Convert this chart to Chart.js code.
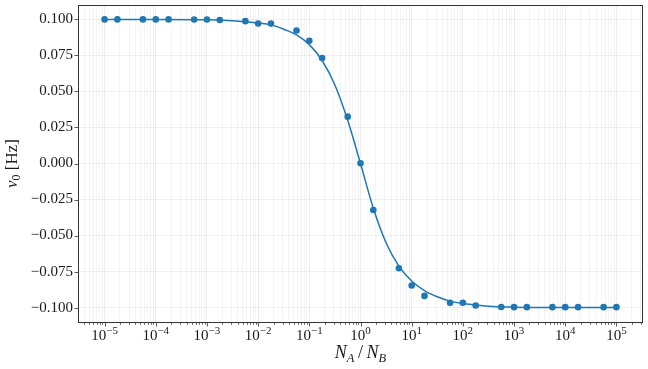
<!DOCTYPE html>
<html>
<head>
<meta charset="utf-8">
<script src="https://cdn.jsdelivr.net/npm/chart.js@4/dist/chart.umd.min.js"></script>
<style>
  html, body { margin: 0; padding: 0; background: #fff; }
  #wrap { width: 648px; height: 369px; position: relative; }
</style>
</head>
<body>
<div id="wrap"><canvas id="chart"></canvas></div>
<script>
// measured points (N_A/N_B, nu_0 in Hz)
const ratioValues = [1e-5, 1.78e-5, 5.62e-5, 1e-4, 1.78e-4, 5.62e-4, 1e-3, 1.78e-3, 5.62e-3, 1e-2, 1.78e-2,
  5.62e-2, 0.1, 0.178, 0.562, 1, 1.78, 5.62, 10, 17.8, 56.2, 100, 178, 562, 1000, 1780, 5620, 1e4, 1.78e4, 5.62e4, 1e5];
const nuValues = [0.1, 0.1, 0.1, 0.1, 0.1, 0.0999, 0.0999, 0.0996, 0.0988, 0.0972, 0.0971,
  0.0923, 0.0852, 0.0732, 0.0325, 0.0002, -0.0323, -0.0727, -0.0847, -0.0919, -0.0967, -0.0966, -0.0985, -0.0996, -0.0997, -0.0997, -0.0997, -0.0997, -0.0997, -0.0997, -0.0997];

// fitted curve
const fitRatio = [1e-5, 1e-4, 1e-3, 3.16e-3, 1e-2, 1.78e-2, 3.16e-2, 5.62e-2, 0.1, 0.178, 0.316, 0.562, 1,
  1.78, 3.16, 5.62, 10, 17.8, 31.6, 56.2, 100, 316, 1000, 1e4, 1e5];
const fitNu = [0.1, 0.1, 0.0997, 0.0991, 0.0975, 0.0962, 0.0932, 0.0893, 0.0825, 0.0715, 0.0545, 0.0300, 0,
  -0.0310, -0.0550, -0.0712, -0.0815, -0.0882, -0.0925, -0.0955, -0.0972, -0.0991, -0.0997, -0.1, -0.1];

const yTicks = [-0.1, -0.075, -0.05, -0.025, 0, 0.025, 0.05, 0.075, 0.1];
const xMajorExp = [-5, -4, -3, -2, -1, 0, 1, 2, 3, 4, 5];

const blue = '#1f77b4';
const ink = '#1a1a1a';
const serif = '"Liberation Serif", "DejaVu Serif", serif';

function fmtY(v) {
  const s = Math.abs(v).toFixed(3);
  return v < -1e-9 ? '\u2212' + s : s;
}

// draws a row of text pieces (text, font, dy), centred on x
function drawPieces(ctx, pieces, x, y) {
  let w = 0;
  pieces.forEach(p => { ctx.font = p.font; w += ctx.measureText(p.text).width; });
  let cx = x - w / 2;
  pieces.forEach(p => {
    ctx.font = p.font;
    ctx.fillText(p.text, cx, y + (p.dy || 0));
    cx += ctx.measureText(p.text).width;
  });
}

const framePlugin = {
  id: 'frame',
  afterDraw(chart) {
    const ctx = chart.ctx;
    const a = chart.chartArea;
    const xs = chart.scales.x;
    const ys = chart.scales.y;
    ctx.save();
    ctx.strokeStyle = '#333';
    ctx.lineWidth = 1;
    ctx.strokeRect(Math.round(a.left) - 0.5, Math.round(a.top) + 0.5, Math.round(a.right - a.left) + 1, Math.round(a.bottom - a.top));

    // tick marks
    ctx.lineWidth = 0.8;
    ctx.beginPath();
    xs.ticks.forEach(t => {
      const px = Math.round(xs.getPixelForValue(t.value)) + 0.5;
      const len = t.major ? 4 : 2.2;
      ctx.moveTo(px, a.bottom + 0.5);
      ctx.lineTo(px, a.bottom + 0.5 + len);
    });
    ys.ticks.forEach(t => {
      const py = Math.round(ys.getPixelForValue(t.value)) + 0.5;
      ctx.moveTo(a.left - 0.5, py);
      ctx.lineTo(a.left - 4.5, py);
    });
    ctx.stroke();

    // x tick labels 10^n
    ctx.fillStyle = ink;
    ctx.textBaseline = 'alphabetic';
    ctx.textAlign = 'left';
    xMajorExp.forEach(e => {
      const px = xs.getPixelForValue(Math.pow(10, e));
      const ex = e < 0 ? '\u2212' + Math.abs(e) : String(e);
      drawPieces(ctx, [
        { text: '10', font: '15px ' + serif },
        { text: ex, font: '11px ' + serif, dy: -6 }
      ], px, 340);
    });

    // x axis title
    drawPieces(ctx, [
      { text: 'N', font: 'italic 18px ' + serif },
      { text: 'A', font: 'italic 12.5px ' + serif, dy: 4 },
      { text: '\u2009/\u2009', font: '18px ' + serif },
      { text: 'N', font: 'italic 18px ' + serif },
      { text: 'B', font: 'italic 12.5px ' + serif, dy: 4 }
    ], (a.left + a.right) / 2, 358);

    // y axis title
    ctx.translate(17, (a.top + a.bottom) / 2);
    ctx.rotate(-Math.PI / 2);
    drawPieces(ctx, [
      { text: '\u03bd', font: 'italic 17px ' + serif },
      { text: '0', font: '12px ' + serif, dy: 3 },
      { text: ' [Hz]', font: '17px ' + serif }
    ], 0, 0);
    ctx.restore();
  }
};

new Chart(document.getElementById('chart'), {
  type: 'scatter',
  data: {
    datasets: [
      {
        type: 'line',
        label: 'fit',
        data: fitRatio.map((r, i) => ({ x: r, y: fitNu[i] })),
        borderColor: blue,
        borderWidth: 1.5,
        pointRadius: 0,
        fill: false,
        cubicInterpolationMode: 'monotone',
        order: 2
      },
      {
        label: 'data',
        data: ratioValues.map((r, i) => ({ x: r, y: nuValues[i] })),
        backgroundColor: blue,
        borderColor: blue,
        pointRadius: 3.3,
        pointBorderWidth: 0,
        order: 1
      }
    ]
  },
  options: {
    responsive: true,
    maintainAspectRatio: false,
    animation: false,
    layout: { padding: { top: 5, right: 6, left: 0, bottom: 0 } },
    plugins: {
      legend: { display: false },
      tooltip: { enabled: false }
    },
    scales: {
      x: {
        type: 'logarithmic',
        min: Math.pow(10, -5.5),
        max: Math.pow(10, 5.5),
        border: { display: false },
        grid: {
          drawTicks: false,
          color: c => (c.tick && c.tick.major) ? 'rgba(0,0,0,0.09)' : 'rgba(0,0,0,0.06)',
          lineWidth: 0.8
        },
        ticks: { display: false },
        afterBuildTicks: s => {
          const ticks = [];
          for (let e = -6; e <= 5; e++) {
            for (let k = 1; k <= 9; k++) {
              const v = k * Math.pow(10, e);
              if (v >= s.min && v <= s.max) ticks.push({ value: v, major: k === 1 });
            }
          }
          s.ticks = ticks;
        },
        afterFit: s => { s.height = 47; s.paddingLeft = 0; s.paddingRight = 0; }
      },
      y: {
        min: -0.11,
        max: 0.11,
        border: { display: false },
        grid: {
          drawTicks: false,
          color: 'rgba(0,0,0,0.07)',
          lineWidth: 0.8
        },
        ticks: {
          autoSkip: false,
          padding: 6,
          color: ink,
          font: { family: serif, size: 15 },
          callback: v => fmtY(v)
        },
        afterBuildTicks: s => { s.ticks = yTicks.map(v => ({ value: v })); },
        afterFit: s => { s.width = 79; s.paddingTop = 0; s.paddingBottom = 0; }
      }
    }
  },
  plugins: [framePlugin]
});
</script>
</body>
</html>
